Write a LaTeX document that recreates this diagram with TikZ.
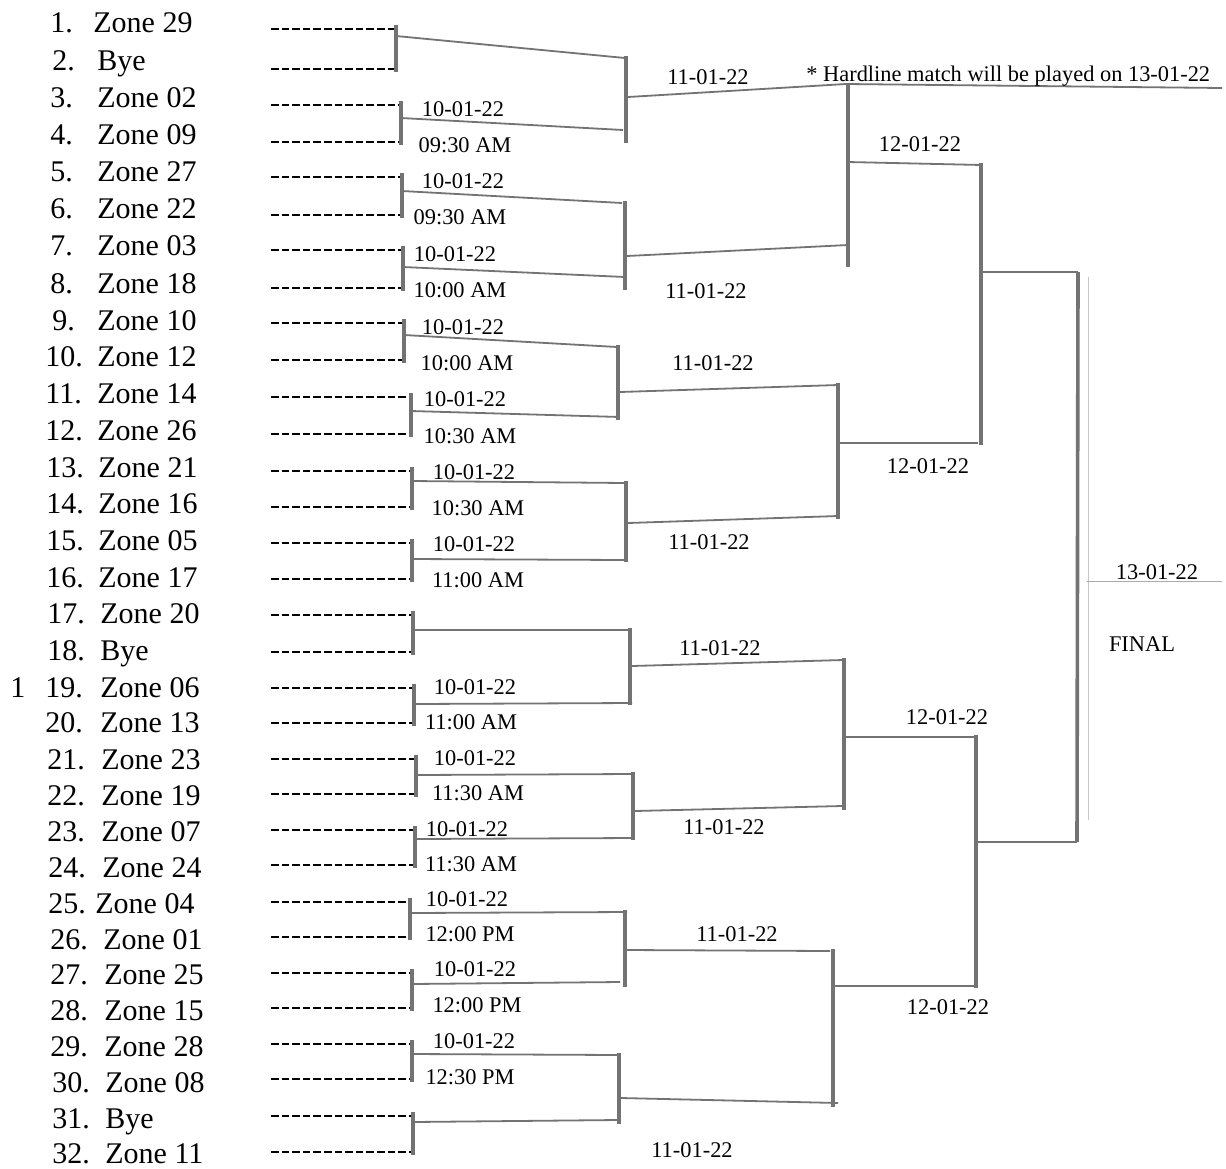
\documentclass[tikz,border=0pt]{standalone}
\usepackage{fontspec}
\setmainfont{Liberation Serif}
\definecolor{pencil}{gray}{0.45}

\begin{document}
\begin{tikzpicture}[x=0.5pt,y=-0.5pt,
    team/.style={anchor=base west,inner sep=0pt,font=\fontsize{15}{18}\selectfont},
    lbl/.style={anchor=base,inner sep=0pt,font=\fontsize{11.2}{13}\selectfont},
    entry/.style={line width=0.9pt,dash pattern=on 3.8pt off 1.5pt},
    bar/.style={draw=pencil,line width=1.8pt},
    link/.style={draw=pencil,line width=0.9pt}]
\useasboundingbox (0,0) rectangle (1226,1168);

% teams
\foreach \i/\ty/\nm/\nx/\ix in {1/22/Zone 29/93/50, 2/60/Bye/97/52, 3/97/Zone 02/97/50,
    4/134/Zone 09/97/50, 5/171/Zone 27/97/50, 6/208/Zone 22/97/50, 7/245/Zone 03/97/50,
    8/283/Zone 18/97/50, 9/320/Zone 10/97/52, 10/356/Zone 12/97/45, 11/393/Zone 14/97/45,
    12/430/Zone 26/97/45, 13/467/Zone 21/98/46, 14/503/Zone 16/98/46, 15/540/Zone 05/98/46,
    16/577/Zone 17/98/46, 17/613/Zone 20/100/47, 18/650/Bye/100/47, 19/687/Zone 06/100/45,
    20/722/Zone 13/100/45, 21/759/Zone 23/101/47, 22/795/Zone 19/101/47, 23/831/Zone 07/101/47,
    24/867/Zone 24/102/48, 25/903/Zone 04/95/48, 26/939/Zone 01/103/50, 27/974/Zone 25/104/50,
    28/1010/Zone 15/104/50, 29/1046/Zone 28/104/50, 30/1082/Zone 08/105/52,
    31/1118/Bye/105/52, 32/1153/Zone 11/105/52}{
  \node[team] (n\i) at (\ix,\ty+10) {\i.};
  \node[team] (t\i) at (\nx,\ty+10) {\nm};
}
\node[team] (mark) at (10,697) {1};

% first round
\foreach \m/\da/\db/\bx/\oy/\ex/\ey in {1/29/69/396/36/625/58, 2/105/142/401/118/623/130,
    3/177/215/402/191/622/203, 4/250/288/403/267/625/277, 5/323/360/404/335/617/347,
    6/397/434/411/411/620/417, 7/471/507/412/481/625/483, 8/543/579/412/559/625/560,
    9/615/652/413/630/628/630, 10/688/723/414/704/632/703, 11/759/794/416/775/632/774,
    12/830/865/415/839/633/838, 13/902/937/410/913/627/912, 14/973/1008/412/984/620/982,
    15/1044/1079/412/1054/620/1055, 16/1116/1152/413/1122/618/1120}{
  \coordinate (a\m) at (271,\da);
  \coordinate (b\m) at (271,\db);
  \draw[entry] (a\m) -- (\bx,\da);
  \draw[entry] (b\m) -- (\bx,\db);
  \draw[bar] (\bx,\da-4) -- (\bx,\db+3);
  \coordinate (m\m) at (\bx,\oy);
  \coordinate (w\m) at (\ex,\ey);
  \draw[link] (m\m) -- (w\m);
}

% second round
\foreach \r/\bx/\top/\bot/\oy/\ex/\ey in {1/626/56/143/97/846/84, 2/625/201/290/256/848/245,
    3/618/345/420/392/838/385, 4/626/481/562/523/838/516, 5/630/628/705/666/843/660,
    6/633/772/840/811/842/806, 7/625/910/987/950/830/951, 8/619/1053/1124/1098/838/1103}{
  \draw[bar] (\bx,\top) -- (\bx,\bot);
  \coordinate (q\r) at (\bx+2,\oy);
  \coordinate (v\r) at (\ex,\ey);
  \draw[link] (q\r) -- (v\r);
}

% third round
\foreach \s/\bx/\top/\bot/\oy/\ex/\ey in {1/848/84/267/162/982/165, 2/838/383/519/443/978/443,
    3/844/658/810/737/977/737, 4/833/949/1107/986/975/986}{
  \draw[bar] (\bx,\top) -- (\bx,\bot);
  \coordinate (s\s) at (\bx,\oy);
  \coordinate (u\s) at (\ex,\ey);
  \draw[link] (s\s) -- (u\s);
}
\coordinate (hl) at (1222,88);
\draw[link] (v1) -- (hl);

% semi finals and final
\draw[bar] (981,163) -- (981,445);
\draw[bar] (976,735) -- (976,988);
\coordinate (f1) at (981,272);
\coordinate (f2) at (976,842);
\coordinate (g1) at (1078,272);
\coordinate (g2) at (1077,842);
\draw[link] (f1) -- (g1);
\draw[link] (f2) -- (g2);
\draw[bar] (g1) -- (g2);
\draw[pencil!40,line width=0.4pt] (1088,277) -- (1088,820);
\coordinate (fa) at (1087,581);
\coordinate (fb) at (1222,581);
\draw[pencil!60,line width=0.5pt] (fa) -- (fb);

% match dates, first round
\foreach \m/\dx/\dy/\tm/\tx/\ty in {2/463/109/09:30 AM/465/145, 3/463/181/09:30 AM/460/217,
    4/455/254/10:00 AM/460/290, 5/463/327/10:00 AM/467/363, 6/465/399/10:30 AM/470/436,
    7/474/472/10:30 AM/478/508, 8/474/544/11:00 AM/478/580, 10/475/687/11:00 AM/471/722,
    11/475/758/11:30 AM/478/793, 12/467/829/11:30 AM/471/864, 13/467/899/12:00 PM/470/934,
    14/475/969/12:00 PM/477/1005, 15/474/1041/12:30 PM/470/1077}{
  \node[lbl] (day\m) at (\dx,\dy+7.5) {10-01-22};
  \node[lbl] (hour\m) at (\tx,\ty+7.5) {\tm};
}

% later rounds
\foreach \k/\lx/\ly/\txt in {1/708/77/11-01-22, 2/706/291/11-01-22, 3/713/363/11-01-22,
    4/709/542/11-01-22, 5/720/648/11-01-22, 6/724/827/11-01-22, 7/737/934/11-01-22,
    8/692/1150/11-01-22, 9/920/144/12-01-22, 10/928/466/12-01-22, 11/947/717/12-01-22,
    12/948/1007/12-01-22, 13/1157/572/13-01-22, 14/1142/644/FINAL}{
  \node[lbl] (late\k) at (\lx,\ly+7.5) {\txt};
}
\node[lbl,anchor=base west] (note) at (806,81.5) {* Hardline match will be played on 13-01-22};

\end{tikzpicture}
\end{document}
